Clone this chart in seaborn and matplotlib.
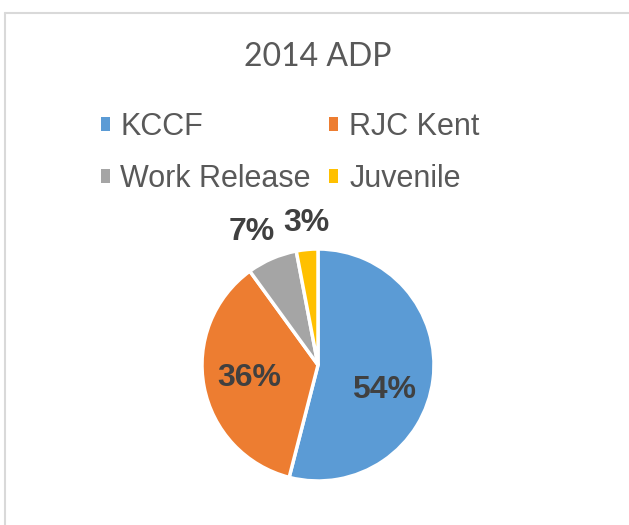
import matplotlib
matplotlib.use("Agg")
import numpy as np
import matplotlib.pyplot as plt
import seaborn as sns
from matplotlib.patches import Patch
from matplotlib.lines import Line2D

# data
categories = ["KCCF", "RJC Kent", "Work Release", "Juvenile"]
shares = [54, 36, 7, 3]
colors = ["#5B9BD5", "#ED7D31", "#A5A5A5", "#FFC000"]
label_dist = [0.6, 0.6, 1.28, 1.23]
label_turn = [0, 0, 3.3, -0.6]  # degrees off the slice middle

sns.set_theme(style="white")
plt.rcParams["font.family"] = ["Liberation Sans", "DejaVu Sans"]

fig = plt.figure(figsize=(6.29, 5.25), dpi=100)
fig.patch.set_facecolor("white")

# chart border (only left and top visible in the crop)
border = "#D9D9D9"
fig.add_artist(Line2D([4.5 / 629, 4.5 / 629], [0, 1 - 12.5 / 525], color=border, lw=1.5,
                      transform=fig.transFigure))
fig.add_artist(Line2D([4.5 / 629, 1], [1 - 12.5 / 525, 1 - 12.5 / 525], color=border, lw=1.5,
                      transform=fig.transFigure))

# pie axes, center ~ (318, 365) px, radius ~116 px
ax = fig.add_axes([(318 - 116) / 629, (525 - 481) / 525, 232 / 629, 232 / 525])
wedges, texts, autotexts = ax.pie(shares, colors=colors, startangle=90, counterclock=False,
                                  autopct="%1.0f%%", pctdistance=0.6,
                                  wedgeprops=dict(edgecolor="white", linewidth=2.5),
                                  textprops=dict(fontsize=23, fontweight="bold", color="#404040"))
ax.set_xlim(-1, 1)
ax.set_ylim(-1, 1)
ax.set_aspect("equal")

for w, t, d, turn in zip(wedges, autotexts, label_dist, label_turn):
    ang = np.deg2rad((w.theta1 + w.theta2) / 2 + turn)
    t.set_position((d * np.cos(ang), d * np.sin(ang)))
x0, y0 = autotexts[0].get_position()
autotexts[0].set_position((x0 - 0.03, y0 - 0.14))

fig.text(318 / 629, 1 - 57 / 525, "2014 ADP", ha="center", va="center",
         fontsize=23, color="#595959", family=["Lato", "DejaVu Sans"])

# legend fills row by row: KCCF, RJC Kent / Work Release, Juvenile
order = [0, 2, 1, 3]
handles = [Patch(facecolor=colors[i], edgecolor="none") for i in order]
labels = [categories[i] for i in order]
fig.legend(handles, labels, loc="center", ncol=2, bbox_to_anchor=(290 / 629, 1 - 153 / 525),
           frameon=False, fontsize=22, labelcolor="#595959",
           handlelength=0.3, handleheight=0.3, handletextpad=0.35,
           columnspacing=0.6, labelspacing=0.72)

fig.savefig("out.png", dpi=100)
